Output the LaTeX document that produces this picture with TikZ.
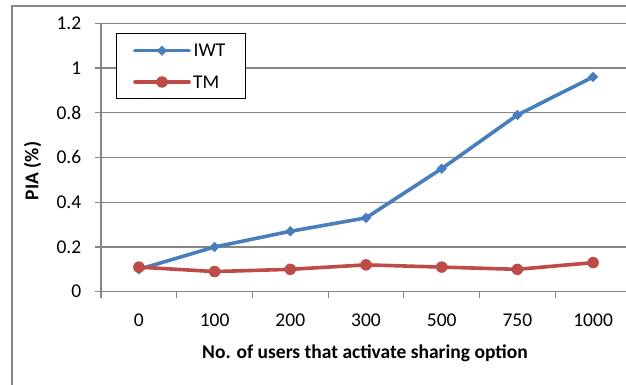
\documentclass[tikz,border=0pt]{standalone}
\usepackage{fontspec}
\setmainfont{Carlito}
\usetikzlibrary{shapes.geometric}
\definecolor{frameg}{RGB}{134,134,134}
\definecolor{iwtblue}{RGB}{74,126,187}
\definecolor{tmred}{RGB}{190,75,72}
\tikzset{
  gridln/.style={draw=frameg, line width=1.1pt},
  tickln/.style={draw=frameg, line width=1.1pt},
  serieslnb/.style={draw=iwtblue, line width=3.6pt, line join=round, line cap=round},
  serieslnr/.style={draw=tmred, line width=3.6pt, line join=round, line cap=round},
  dmark/.style={diamond, fill=iwtblue, inner sep=0pt, minimum width=10.5pt, minimum height=10.5pt},
  cmark/.style={circle, fill=tmred, inner sep=0pt, minimum size=11.5pt},
  ticklab/.style={inner sep=0pt, font=\fontsize{19.5}{23}\selectfont},
  axtitle/.style={inner sep=0pt, font=\fontsize{19.5}{23}\selectfont\bfseries},
}
\begin{document}
\begin{tikzpicture}[x=1pt, y=-1pt]
\useasboundingbox (0,0) rectangle (626,385);
\clip (0,0) rectangle (626,385);
\fill[white] (0,0) rectangle (626,385);
% chart frame
\draw[frameg, line width=1.1pt] (12,390) -- (12,6) -- (640,6);
% horizontal gridlines and y ticks
\foreach \v in {0.2,0.4,0.6,0.8,1.0,1.2} {
  \draw[gridln] (95,{291.7-223.7*\v}) -- (640,{291.7-223.7*\v});
}
% x axis and y axis
\draw[tickln] (95,291.7) -- (640,291.7);
\draw[tickln] (101,23.3) -- (101,298);
\foreach \k in {1,...,7} {
  \draw[tickln] ({101+75.7*\k},291.7) -- ({101+75.7*\k},298);
}
% y tick labels
\foreach \v/\t in {0/0,0.2/0.2,0.4/0.4,0.6/0.6,0.8/0.8,1.0/1,1.2/1.2} {
  \node[ticklab, anchor=east] (yl\t) at (81.5,{291.7-223.7*\v}) {\t};
}
% x tick labels
\foreach \t [count=\i from 0] in {0,100,200,300,500,750,1000} {
  \node[ticklab, anchor=base] (xl\i) at ({138.9+75.7*\i},326) {\t};
}
% axis titles
\node[axtitle, anchor=base] (xtitle) at (365,358.3) {No. of users that activate sharing option};
\node[axtitle, rotate=90] (ytitle) at (32.5,171) {PIA (\%)};
% data points
\foreach \v [count=\i from 0] in {0.10,0.20,0.27,0.33,0.55,0.79,0.96} {
  \coordinate (w\i) at ({138.9+75.7*\i},{291.7-223.7*\v});
}
\foreach \v [count=\i from 0] in {0.11,0.09,0.10,0.12,0.11,0.10,0.13} {
  \coordinate (t\i) at ({138.9+75.7*\i},{291.7-223.7*\v});
}
% IWT series
\draw[serieslnb] (w0) -- (w1) -- (w2) -- (w3) -- (w4) -- (w5) -- (w6);
\foreach \i in {0,...,6} { \node[dmark] (wm\i) at (w\i) {}; }
% TM series
\draw[serieslnr] (t0) -- (t1) -- (t2) -- (t3) -- (t4) -- (t5) -- (t6);
\foreach \i in {0,...,6} { \node[cmark] (tm\i) at (t\i) {}; }
% legend
\node[draw=black, line width=1.1pt, fill=white, inner sep=0pt, minimum width=129pt, minimum height=65pt, anchor=north west] (legend) at (116,33) {};
\coordinate (la1) at (135,50.7);
\coordinate (lb1) at (189,50.7);
\coordinate (la2) at (135,82);
\coordinate (lb2) at (189,82);
\draw[serieslnb] (la1) -- (lb1);
\node[dmark] (lm1) at (162,50.7) {};
\draw[serieslnr] (la2) -- (lb2);
\node[cmark] (lm2) at (162,82) {};
\node[ticklab, anchor=west] (lt1) at (193.5,50.7) {IWT};
\node[ticklab, anchor=west] (lt2) at (193,82.5) {TM};
\end{tikzpicture}
\end{document}
